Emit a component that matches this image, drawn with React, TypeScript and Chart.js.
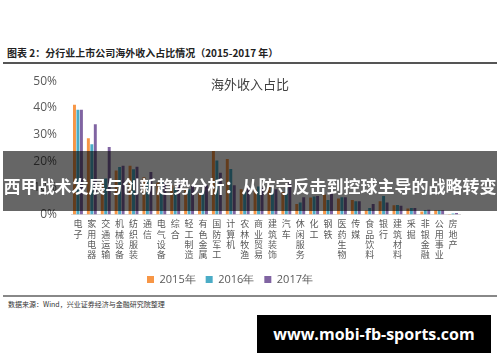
import React, { useEffect, useRef } from "react";
import { Chart, registerables } from "chart.js";

Chart.register(...registerables);

const categories = [
  "电子", "家用电器", "交通运输", "机械设备", "纺织服装", "通信", "电气设备",
  "综合", "轻工制造", "有色金属", "国防军工", "计算机", "农林牧渔", "商业贸易",
  "建筑装饰", "汽车", "休闲服务", "化工", "钢铁", "医药生物", "传媒",
  "食品饮料", "银行", "建筑材料", "采掘", "非银金融", "公用事业", "房地产",
];
const seriesNames = ["2015年", "2016年", "2017年"];
const values2015 = [41.2, 28.6, 13, 16.5, 18.3, 14, 12, 11, 10, 8, 23.8, 20.8, 9.5, 9.5, 10.5, 8.5, 4, 6.4, 7.5, 6, 5.5, 1.5, 5, 3.5, 2.3, 1.2, 1.6, 0.2];
const values2016 = [39.3, 26.4, 13.5, 17.8, 17.0, 13, 13, 10, 9.5, 9, 20.3, 17.1, 8.9, 10.5, 10, 10, 4.5, 6.8, 5.5, 6.5, 5, 2.5, 7, 3.6, 2.5, 1.7, 1.6, 0.4];
const values2017 = [39.3, 33.9, 25.3, 18.3, 17.9, 16, 12, 12, 11, 11, 15.7, 11, 10.5, 10, 9.5, 12, 6.5, 7, 8, 6.5, 5, 4, 4.5, 3.3, 2.5, 1.8, 1.6, 0.6];
const yTickValues = [0, 10, 20, 30, 40, 50];
const seriesColors = ["#F79646", "#4BACC6", "#8064A2"];

const headerText = "图表 2：分行业上市公司海外收入占比情况（2015-2017 年）";
const chartTitle = "海外收入占比";
const sourceText = "数据来源：Wind，兴业证券经济与金融研究院整理";
const bannerText = "西甲战术发展与创新趋势分析：从防守反击到控球主导的战略转变";
const watermarkText = "www.mobi-fb-sports.com";

function BarChart() {
  const ref = useRef<HTMLCanvasElement | null>(null);
  useEffect(() => {
    if (!ref.current) return;
    const allSeries = [values2015, values2016, values2017];
    const chart = new Chart(ref.current, {
      type: "bar",
      data: {
        labels: categories.map((c) => Array.from(c)),
        datasets: allSeries.map((vals, i) => ({
          label: seriesNames[i],
          data: vals,
          backgroundColor: seriesColors[i],
          borderWidth: 0,
          barPercentage: 0.85,
          categoryPercentage: 0.75,
        })),
      },
      options: {
        animation: false,
        responsive: false,
        maintainAspectRatio: false,
        layout: { padding: { left: 0, right: 40, top: 21, bottom: 0 } },
        scales: {
          x: {
            grid: { display: false, drawTicks: false },
            border: { display: true, color: "#d9d9d9" },
            ticks: {
              autoSkip: false,
              maxRotation: 0,
              minRotation: 0,
              padding: 4,
              color: "#595959",
              font: { family: "Noto Sans CJK SC", size: 9, lineHeight: 1.15 },
            },
          },
          y: {
            min: 0,
            max: 50,
            afterBuildTicks: (s: any) => {
              s.ticks = yTickValues.map((v) => ({ value: v }));
            },
            afterFit: (s: any) => {
              s.width = 71;
            },
            grid: { display: false, drawTicks: false },
            border: { display: false },
            ticks: {
              padding: 14,
              color: "#595959",
              font: { family: "Open Sans", size: 12 },
              callback: (v: any) => v + "%",
            },
          },
        },
        plugins: {
          legend: {
            position: "bottom",
            labels: {
              boxWidth: 7,
              boxHeight: 7,
              padding: 10,
              color: "#595959",
              font: { family: "Open Sans", size: 11 },
            },
          },
          tooltip: { enabled: false },
        },
      },
    });
    return () => chart.destroy();
  }, []);
  return (
    <canvas
      ref={ref}
      width={500}
      height={235}
      style={{ position: "absolute", left: 0, top: 60, width: 500, height: 235 }}
    />
  );
}

export default function App() {
  return (
    <div
      style={{
        position: "fixed",
        left: 0,
        top: 0,
        width: 500,
        height: 362,
        background: "#ffffff",
        overflow: "hidden",
        fontFamily: "'Noto Sans CJK SC', sans-serif",
      }}
    >
      <div
        style={{
          position: "absolute",
          left: 7,
          top: 46,
          fontSize: 10,
          lineHeight: "14px",
          fontWeight: 700,
          color: "#222",
          whiteSpace: "nowrap",
        }}
      >
        {headerText}
      </div>
      <div style={{ position: "absolute", left: 3, top: 62, width: 494, height: 2, background: "#555" }} />
      <BarChart />
      <div
        style={{
          position: "absolute",
          left: 0,
          width: 500,
          top: 75,
          textAlign: "center",
          fontSize: 13,
          lineHeight: "18px",
          color: "#404040",
        }}
      >
        {chartTitle}
      </div>
      <div style={{ position: "absolute", left: 3, top: 295, width: 494, height: 2, background: "#888" }} />
      <div
        style={{
          position: "absolute",
          left: 8,
          top: 299,
          fontSize: 7,
          lineHeight: "10px",
          color: "#333",
          whiteSpace: "nowrap",
        }}
      >
        {sourceText}
      </div>
      <div
        style={{
          position: "absolute",
          left: 3,
          top: 151,
          width: 494,
          height: 60,
          background: "rgba(0,0,0,0.6)",
        }}
      />
      <div
        style={{
          position: "absolute",
          left: 0,
          width: 500,
          top: 176,
          height: 20,
          lineHeight: "20px",
          textAlign: "center",
          fontSize: 17,
          fontWeight: 700,
          color: "#ffffff",
          whiteSpace: "nowrap",
        }}
      >
        {bannerText}
      </div>
      <div
        style={{
          position: "absolute",
          left: 257,
          top: 315,
          width: 234,
          height: 38,
          background: "#000",
          color: "#fff",
          fontFamily: "'Open Sans', sans-serif",
          fontWeight: 700,
          fontSize: 16,
          lineHeight: "38px",
          textAlign: "center",
          whiteSpace: "nowrap",
        }}
      >
        {watermarkText}
      </div>
    </div>
  );
}
